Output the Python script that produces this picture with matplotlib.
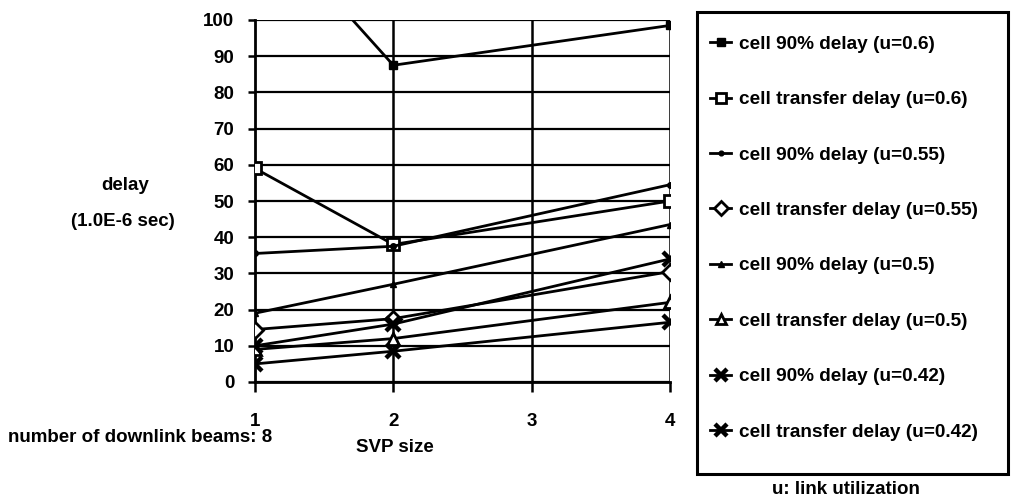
import matplotlib
matplotlib.use("Agg")
import matplotlib.pyplot as plt
from matplotlib.patches import Rectangle

plt.rcParams['font.family'] = ['Liberation Sans', 'DejaVu Sans']
plt.rcParams['font.weight'] = 'bold'

svp_size = [1, 2, 4]
series_labels = [
    "cell 90% delay (u=0.6)",
    "cell transfer delay (u=0.6)",
    "cell 90% delay (u=0.55)",
    "cell transfer delay (u=0.55)",
    "cell 90% delay (u=0.5)",
    "cell transfer delay (u=0.5)",
    "cell 90% delay (u=0.42)",
    "cell transfer delay (u=0.42)",
]
d90_u060 = [130, 87.5, 98.5]
dtr_u060 = [59, 38, 50]
d90_u055 = [35.5, 37.5, 54.5]
dtr_u055 = [14.5, 17.5, 30.5]
d90_u050 = [19, 27, 43.5]
dtr_u050 = [9, 12, 22]
d90_u042 = [10, 16, 34]
dtr_u042 = [5, 8.5, 16.5]
x_ticks = [1, 2, 3, 4]
y_ticks = [0, 10, 20, 30, 40, 50, 60, 70, 80, 90, 100]

all_series = [d90_u060, dtr_u060, d90_u055, dtr_u055, d90_u050, dtr_u050, d90_u042, dtr_u042]
styles = [
    dict(marker='s', ms=6, mfc='black'),
    dict(marker='s', ms=9, mfc='white', mew=2),
    dict(marker='o', ms=4, mfc='black'),
    dict(marker='D', ms=8, mfc='white', mew=2),
    dict(marker='^', ms=5, mfc='black'),
    dict(marker='^', ms=9, mfc='white', mew=2),
    dict(marker='x', ms=10, mew=3.2),
    dict(marker='x', ms=10, mew=3.2),
]

fig = plt.figure(figsize=(10.11, 5.04), dpi=100)
ax = fig.add_axes([255/1011, 1-382/504, (670-255)/1011, (382-20)/504])

for v in x_ticks[1:]:
    ax.axvline(v, color='black', lw=1.8, zorder=1)
for v in y_ticks:
    ax.axhline(v, color='black', lw=1.6, zorder=1)

for vals, st, lab in zip(all_series, styles, series_labels):
    ax.plot(svp_size, vals, color='black', lw=2.0, mec='black', label=lab, zorder=3, **st)

ax.set_xlim(1, 4)
ax.set_ylim(0, 100)
ax.set_xticks(x_ticks)
ax.set_yticks(y_ticks)
ax.tick_params(axis='both', labelsize=13.5, width=1.8, direction='out')
ax.tick_params(axis='x', length=7, pad=15)
ax.tick_params(axis='y', length=5, pad=10)
for s in ['top', 'right']:
    ax.spines[s].set_visible(False)
ax.spines['left'].set_linewidth(2.0)
ax.spines['bottom'].set_linewidth(2.0)

fig.text(125/1011, 1-185/504, "delay", ha='center', va='center', fontsize=13.5)
fig.text(123/1011, 1-222/504, "(1.0E-6 sec)", ha='center', va='center', fontsize=13.5)
fig.text(395/1011, 1-448/504, "SVP size", ha='center', va='center', fontsize=13.5)
fig.text(8/1011, 1-437/504, "number of downlink beams: 8", ha='left', va='center', fontsize=13.5)
fig.text(846/1011, 1-490/504, "u: link utilization", ha='center', va='center', fontsize=13.5)

fig.patches.append(Rectangle((697/1011, 1-474/504), (1008-697)/1011, (474-12)/504,
                             transform=fig.transFigure, fill=False, edgecolor='black', lw=2.2))

leg_handles = []
for st, lab in zip(styles, series_labels):
    st2 = dict(st)
    st2['ms'] = st2['ms'] * 0.85
    h, = ax.plot([], [], color='black', lw=2.0, mec='black', label=lab, **st2)
    leg_handles.append(h)
leg = fig.legend(handles=leg_handles, loc='upper left', bbox_to_anchor=(702/1011, 1-28/504),
                 frameon=False, fontsize=13.7, handlelength=1.15, handletextpad=0.38,
                 labelspacing=2.0, borderaxespad=0)

fig.savefig("out.png", dpi=100)
